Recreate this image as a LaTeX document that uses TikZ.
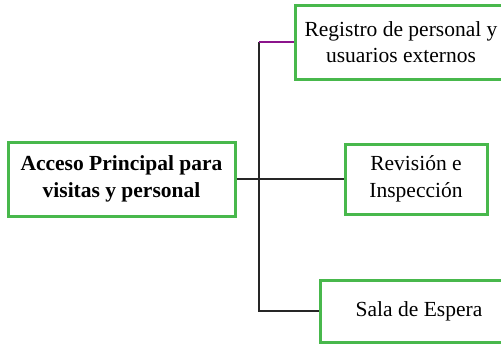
\documentclass[tikz,border=0pt]{standalone}
\usepackage{fontspec}
\setmainfont{Liberation Serif}
\definecolor{boxgreen}{RGB}{72,184,76}
\definecolor{linkpurple}{RGB}{140,20,140}
\begin{document}
\begin{tikzpicture}[x=1pt,y=-1pt,
    areabox/.style={draw=boxgreen,line width=3pt,align=center,inner sep=0pt,
        font=\fontsize{21.5}{26.5}\selectfont},
    link/.style={line width=1.1pt,black!85}]
    \useasboundingbox (0,0) rectangle (501,343);
    \clip (0,0) rectangle (501,343);
    \node[areabox,minimum width=227,minimum height=74,font=\fontsize{21.5}{26.5}\selectfont\bfseries] (acceso) at (121.5,179) {Acceso Principal para\\visitas y personal};
    \node[areabox,minimum width=212,minimum height=74] (registro) at (401,42) {Registro de personal y\\usuarios externos};
    \node[areabox,minimum width=142,minimum height=70] (revision) at (416,179) {Revisión e\\Inspección};
    \node[areabox,minimum width=198,minimum height=62] (sala) at (419,311) {Sala de Espera};
    \coordinate (tronco) at (259,179);
    \draw[link] (acceso.east) -- (tronco) -- (revision.west);
    \draw[link] (tronco |- registro.west) -- (tronco |- sala.west) -- (sala.west);
    \draw[link,linkpurple] (tronco |- registro.west) -- (registro.west);
\end{tikzpicture}
\end{document}
